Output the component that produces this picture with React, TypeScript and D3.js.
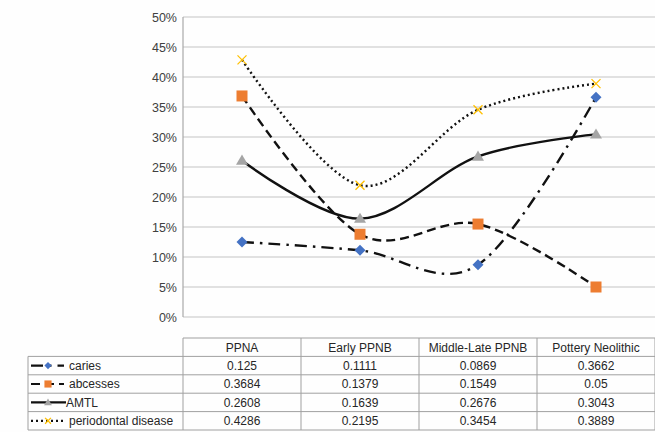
import React from "react";
import * as d3 from "d3";

const categories = ["PPNA", "Early PPNB", "Middle-Late PPNB", "Pottery Neolithic"];
const seriesNames = ["caries", "abcesses", "AMTL", "periodontal disease"];
const caries = [0.125, 0.1111, 0.0869, 0.3662];
const abcesses = [0.3684, 0.1379, 0.1549, 0.05];
const amtl = [0.2608, 0.1639, 0.2676, 0.3043];
const periodontal = [0.4286, 0.2195, 0.3454, 0.3889];
const tableText = [
  ["0.125", "0.1111", "0.0869", "0.3662"],
  ["0.3684", "0.1379", "0.1549", "0.05"],
  ["0.2608", "0.1639", "0.2676", "0.3043"],
  ["0.4286", "0.2195", "0.3454", "0.3889"],
];
const yTicks = [0, 0.05, 0.1, 0.15, 0.2, 0.25, 0.3, 0.35, 0.4, 0.45, 0.5];

const W = 655, H = 432;
const plotL = 183, plotR = 655, plotT = 17, plotB = 317;
const tableLeft = 28;
const headerTop = 338, rowH = 18.4;

const styles = [
  { dash: "12 6 2.5 6", marker: "diamond", color: "#4472C4" },
  { dash: "9 5", marker: "square", color: "#ED7D31" },
  { dash: "", marker: "triangle", color: "#A5A5A5" },
  { dash: "2 3", marker: "x", color: "#FFC000" },
];
const allSeries = [caries, abcesses, amtl, periodontal];

function Marker({ kind, x, y, color, k = 1 }: { kind: string; x: number; y: number; color: string; k?: number }) {
  if (kind === "diamond") {
    const s = 5.5 * k;
    return <path d={`M${x},${y - s}L${x + s},${y}L${x},${y + s}L${x - s},${y}Z`} fill={color} />;
  }
  if (kind === "square") {
    const s = 5.5 * k;
    return <rect x={x - s} y={y - s} width={2 * s} height={2 * s} fill={color} />;
  }
  if (kind === "triangle") {
    const s = 6 * k;
    return <path d={`M${x},${y - s}L${x + s},${y + s * 0.7}L${x - s},${y + s * 0.7}Z`} fill={color} />;
  }
  const s = 4.5 * k;
  return (
    <path d={`M${x - s},${y - s}L${x + s},${y + s}M${x - s},${y + s}L${x + s},${y - s}`} stroke={color} strokeWidth={1.3} fill="none" />
  );
}

export default function App() {
  const x = d3.scaleBand().domain(categories).range([plotL, plotR]);
  const y = d3.scaleLinear().domain([0, 0.5]).range([plotB, plotT]);
  const line = d3
    .line<number>()
    .x((_, i) => x(categories[i])! + x.bandwidth() / 2)
    .y((d) => y(d))
    .curve(d3.curveCatmullRom.alpha(0));
  const font = "Liberation Sans, Arial, sans-serif";
  const colEdges = categories.map((c) => x(c)!).concat([plotR]);

  return (
    <svg width={W} height={H} style={{ position: "absolute", left: 0, top: 0, background: "#fff" }} fontFamily={font}>
      <rect x={0} y={0} width={W} height={H} fill="#fefefe" />
      {yTicks.map((t) => (
        <g key={t}>
          <line x1={plotL} x2={plotR} y1={y(t)} y2={y(t)} stroke="#c4c4c4" strokeWidth={1.2} />
          <text x={177} y={y(t) + 4.5} textAnchor="end" fontSize={12.5} fill="#404040">
            {d3.format(".0%")(t)}
          </text>
        </g>
      ))}
      <line x1={plotL} x2={plotL} y1={plotT} y2={plotB} stroke="#a8a8a8" strokeWidth={1.2} />
      {allSeries.map((s, si) => (
        <path key={si} d={line(s)!} fill="none" stroke="#111" strokeWidth={2.4} strokeDasharray={styles[si].dash} />
      ))}
      {allSeries.map((s, si) =>
        s.map((v, i) => (
          <Marker key={si + "-" + i} kind={styles[si].marker} x={x(categories[i])! + x.bandwidth() / 2} y={y(v)} color={styles[si].color} />
        ))
      )}
      {/* table */}
      <g>
        <line x1={plotL} x2={plotR} y1={headerTop} y2={headerTop} stroke="#a0a0a0" />
        {[0, 1, 2, 3, 4].map((r) => (
          <line key={r} x1={tableLeft} x2={plotR} y1={headerTop + rowH * (r + 1)} y2={headerTop + rowH * (r + 1)} stroke="#a0a0a0" />
        ))}
        <line x1={tableLeft} x2={tableLeft} y1={headerTop + rowH} y2={headerTop + rowH * 5} stroke="#a0a0a0" />
        {colEdges.map((cx, i) => (
          <line key={i} x1={cx} x2={cx} y1={headerTop} y2={headerTop + rowH * 5} stroke="#a0a0a0" />
        ))}
        {categories.map((c) => (
          <text key={c} x={x(c)! + x.bandwidth() / 2} y={headerTop + rowH / 2 + 4.3} textAnchor="middle" fontSize={12} fill="#262626">
            {c}
          </text>
        ))}
        {tableText.map((row, r) =>
          row.map((t, i) => (
            <text key={r + "-" + i} x={x(categories[i])! + x.bandwidth() / 2} y={headerTop + rowH * (r + 1) + rowH / 2 + 4.3} textAnchor="middle" fontSize={12} fill="#262626">
              {t}
            </text>
          ))
        )}
        {seriesNames.map((n, r) => {
          const cy = headerTop + rowH * (r + 1) + rowH / 2;
          return (
            <g key={n}>
              <line x1={31} x2={r === 2 ? 66 : 64} y1={cy} y2={cy} stroke="#111" strokeWidth={2.2} strokeDasharray={styles[r].dash} />
              <Marker kind={styles[r].marker} x={48} y={cy} color={styles[r].color} k={0.65} />
              <text x={r === 2 ? 66 : 69} y={cy + 4.3} fontSize={12} fill="#262626">{n}</text>
            </g>
          );
        })}
      </g>
    </svg>
  );
}
